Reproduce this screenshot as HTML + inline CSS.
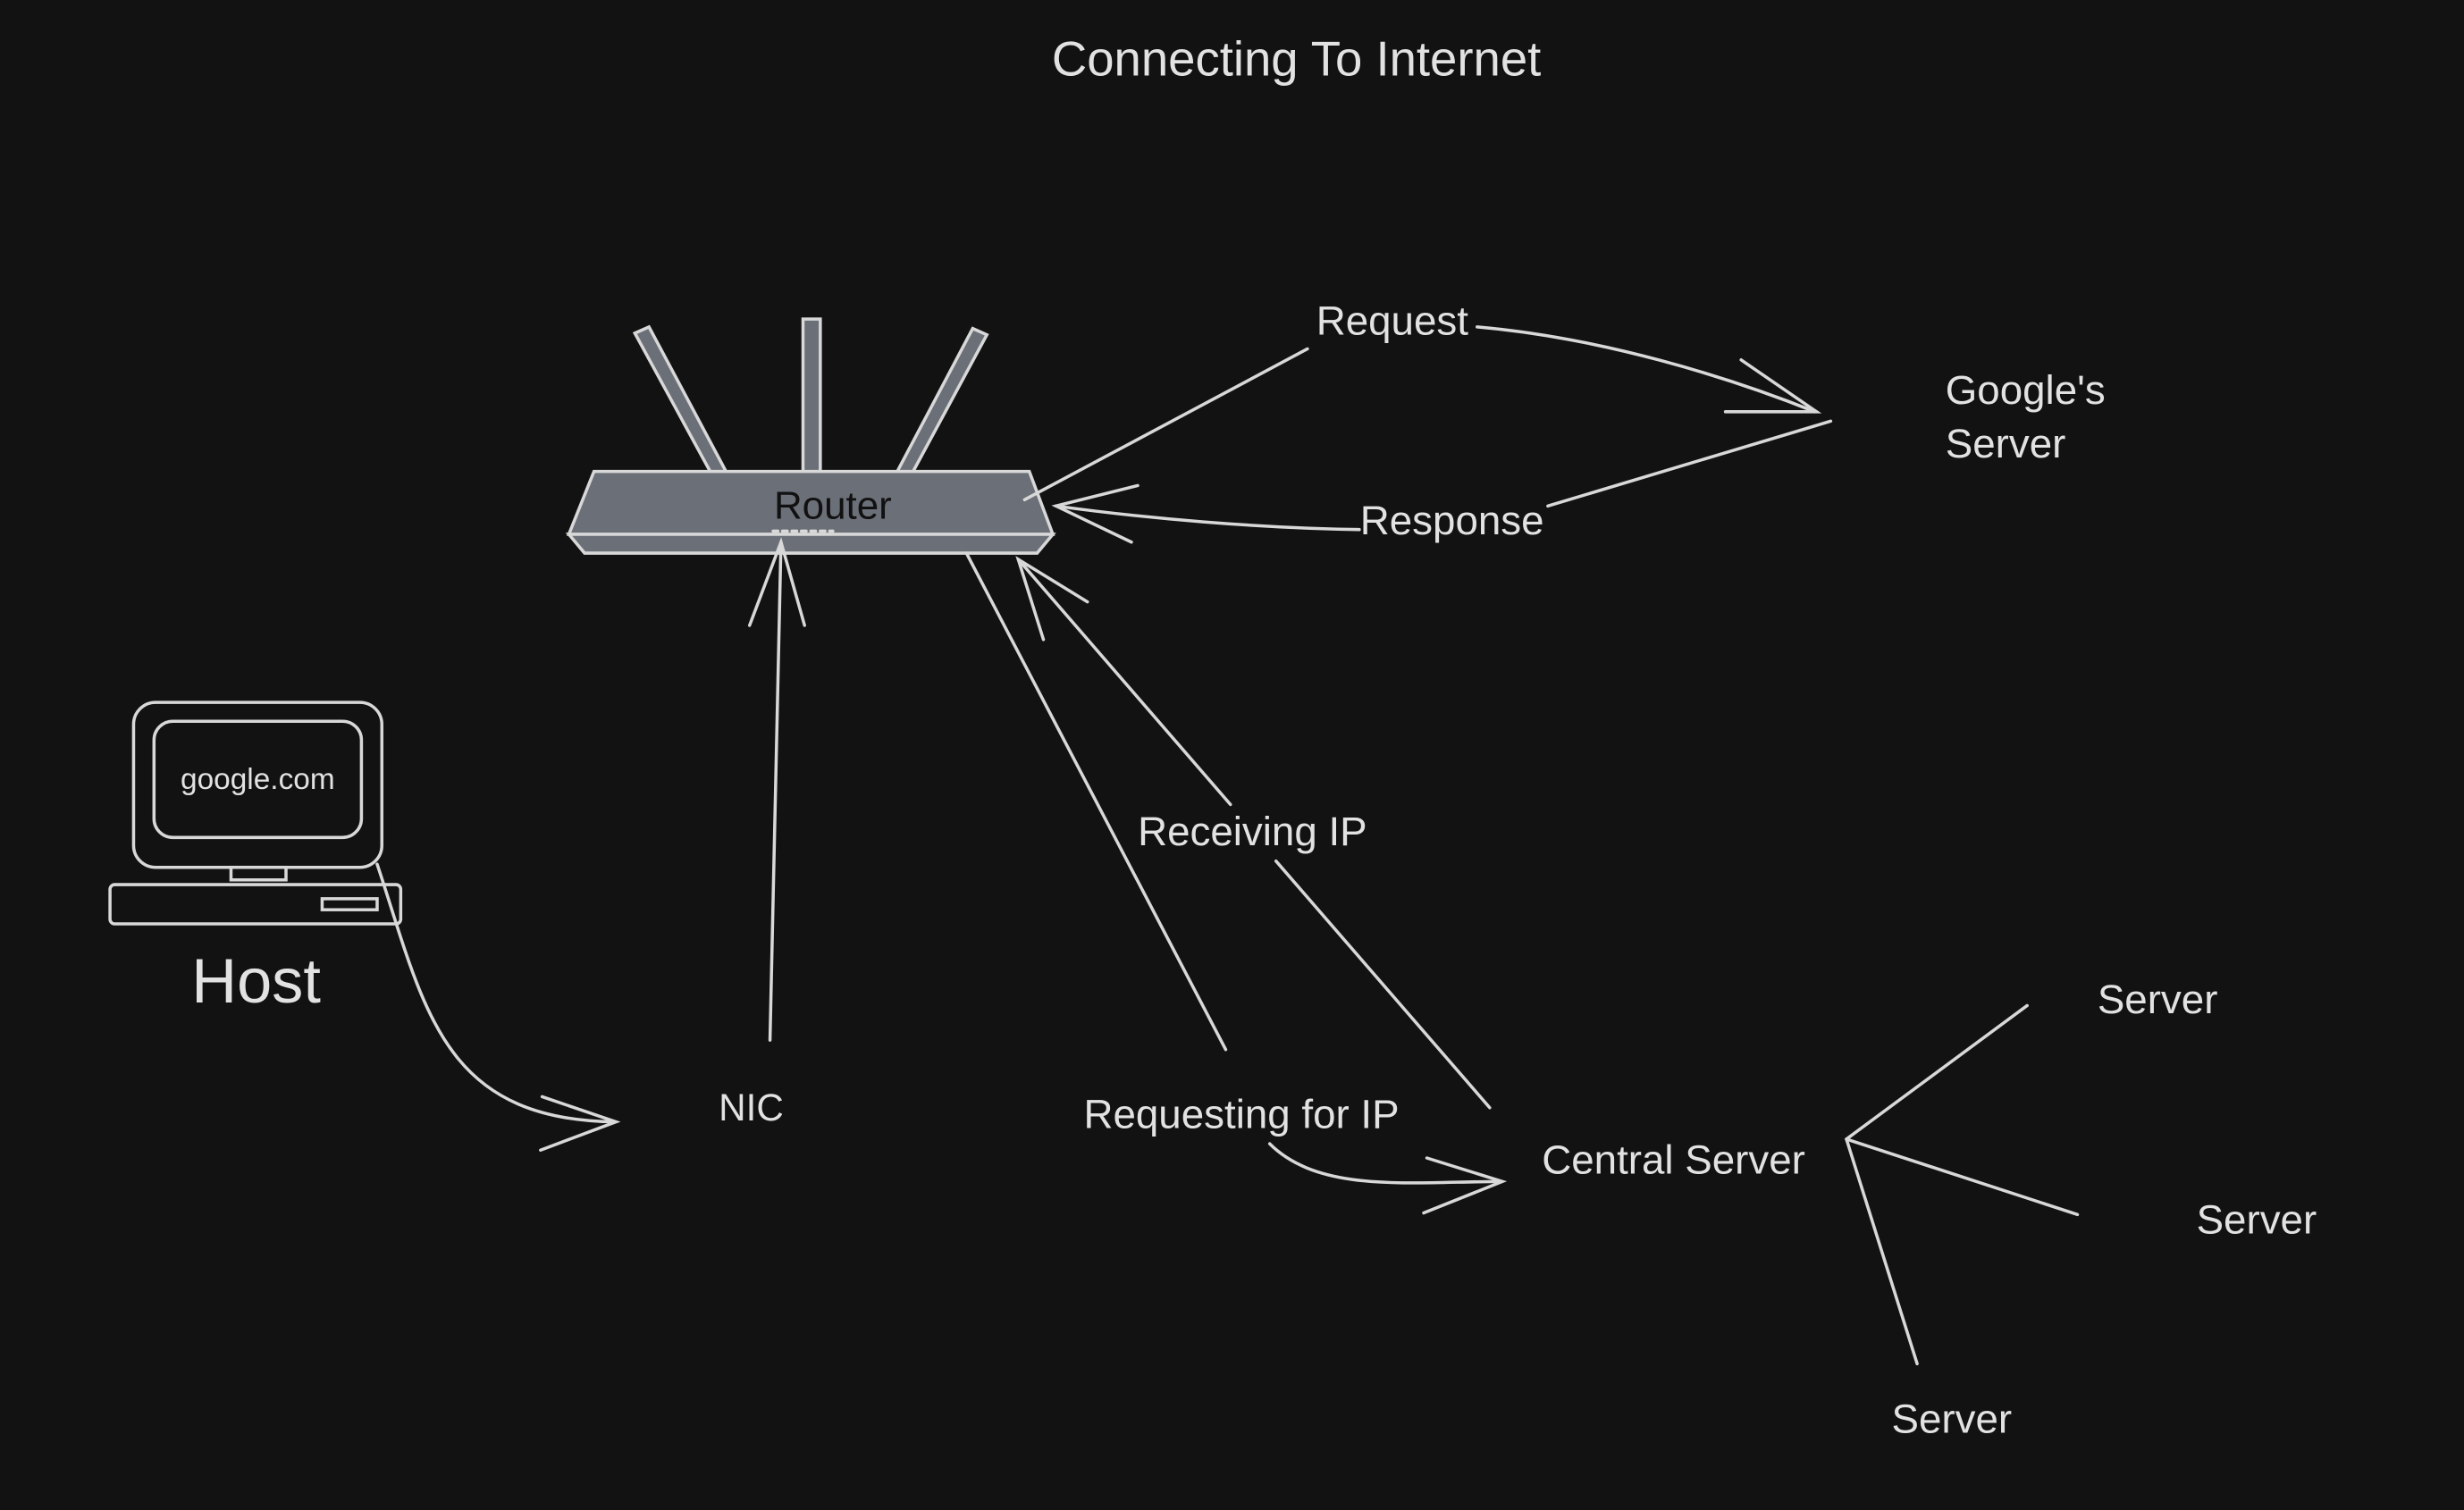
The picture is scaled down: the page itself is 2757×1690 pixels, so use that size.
<!DOCTYPE html>
<html><head><meta charset="utf-8"><style>
html,body{margin:0;padding:0;background:#121212;}
svg{display:block}
text{font-family:"Liberation Sans",sans-serif;fill:#e2e2e2}
</style></head><body>
<svg width="2757" height="1690" viewBox="0 0 1568 961" xmlns="http://www.w3.org/2000/svg">
<rect width="1568" height="961" fill="#121212"/>
<g fill="none" stroke="#d8d8d8" stroke-width="2" stroke-linecap="round">
<text x="825" y="48" font-size="31" text-anchor="middle" stroke="none">Connecting To Internet</text>

<g>
<polygon points="404,212 413,208 462,300 453,302" fill="#6b6f78"/>
<rect x="511" y="203" width="11" height="98" fill="#6b6f78"/>
<polygon points="619,209 628,213 580,302 571,300" fill="#6b6f78"/>
<polygon points="378,300 655,300 670,340 362,340" fill="#6b6f78"/>
<polygon points="362,340 670,340 660,352 372,352" fill="#6b6f78"/>
<text x="530" y="330" font-size="25" text-anchor="middle" stroke="none" style="fill:#111">Router</text>
<line x1="492" y1="338" x2="530" y2="338" stroke-dasharray="3,3"/>
</g>

<g>
<rect x="85" y="447" width="158" height="105" rx="14"/>
<rect x="98" y="459" width="132" height="74" rx="12"/>
<text x="164" y="502" font-size="19" text-anchor="middle" stroke="none">google.com</text>
<rect x="147" y="552" width="35" height="8"/>
<rect x="70" y="563" width="185" height="25" rx="3"/>
<rect x="205" y="572" width="35" height="7"/>
<text x="163" y="638" font-size="40" text-anchor="middle" stroke="none">Host</text>
</g>

<path d="M240,550 C270,640 280,712 390,714"/>
<path d="M345,698 L392,714 L344,732"/>
<text x="478" y="713" font-size="24" text-anchor="middle" stroke="none">NIC</text>
<line x1="490" y1="662" x2="497" y2="345"/>
<path d="M477,398 L497,345 L512,398"/>

<line x1="615" y1="352" x2="780" y2="668"/>
<text x="790" y="718" font-size="26" text-anchor="middle" stroke="none">Requesting for IP</text>
<path d="M808,728 C840,760 900,752 955,752"/>
<path d="M908,737 L956,752 L906,772"/>

<text x="1065" y="747" font-size="26" text-anchor="middle" stroke="none">Central Server</text>

<text x="797" y="538" font-size="26" text-anchor="middle" stroke="none">Receiving IP</text>
<line x1="948" y1="705" x2="812" y2="548"/>
<line x1="783" y1="512" x2="648" y2="356"/>
<path d="M692,383 L648,356 L664,407"/>

<text x="886" y="213" font-size="26" text-anchor="middle" stroke="none">Request</text>
<line x1="652" y1="318" x2="832" y2="222"/>
<path d="M940,208 C1020,215 1100,240 1155,262"/>
<path d="M1108,229 L1156,262 L1098,262"/>

<text x="924" y="340" font-size="26" text-anchor="middle" stroke="none">Response</text>
<line x1="985" y1="322" x2="1165" y2="268"/>
<path d="M865,337 C800,336 730,330 672,322"/>
<path d="M724,309 L672,322 L720,345"/>

<text x="1238" y="257" font-size="26" stroke="none">Google's</text>
<text x="1238" y="291" font-size="26" stroke="none">Server</text>

<line x1="1175" y1="725" x2="1290" y2="640"/>
<line x1="1175" y1="725" x2="1322" y2="773"/>
<line x1="1175" y1="725" x2="1220" y2="868"/>
<text x="1373" y="645" font-size="26" text-anchor="middle" stroke="none">Server</text>
<text x="1436" y="785" font-size="26" text-anchor="middle" stroke="none">Server</text>
<text x="1242" y="912" font-size="26" text-anchor="middle" stroke="none">Server</text>
</g>
</svg>
</body></html>
